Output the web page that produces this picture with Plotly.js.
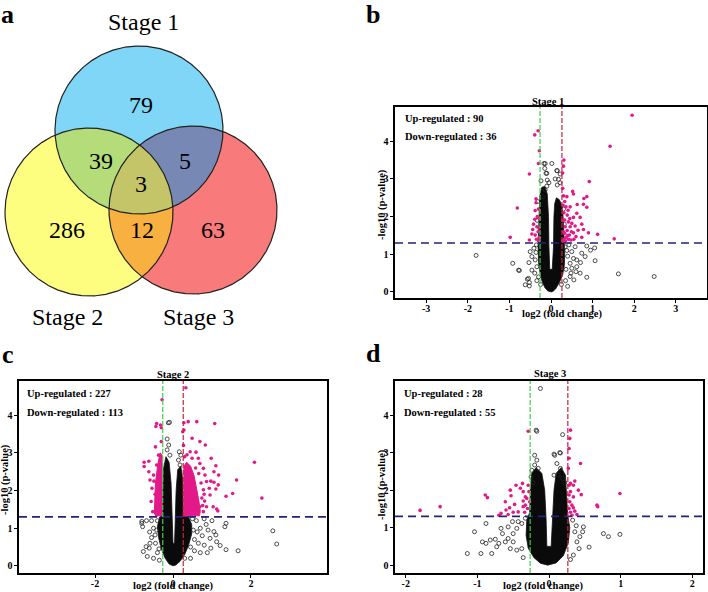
<!DOCTYPE html>
<html><head><meta charset="utf-8">
<script src="https://cdn.plot.ly/plotly-3.0.1.min.js"></script>
<style>html,body{margin:0;padding:0;background:#fff;}#chart{width:708px;height:592px;}</style>
</head><body><div id="chart"></div>
<script>
// ================= DATA =================
const vennSets = ['Stage 1', 'Stage 2', 'Stage 3'];
const vennRegions = ['1', '1&2', '1&3', '1&2&3', '2', '2&3', '3'];
const vennCounts = [79, 39, 5, 3, 286, 12, 63];

const stageTitles = ['Stage 1', 'Stage 2', 'Stage 3'];
const upCounts = [90, 227, 28];
const downCounts = [36, 113, 55];
const pThreshold = 1.3;       // -log10(0.05)
const fcThreshold = 0.263;    // log2(1.2)

const xTicksS1 = [-3, -2, -1, 0, 1, 2, 3];
const xTicksS2 = [-2, 0, 2];
const xTicksS3 = [-2, -1, 0, 1, 2];
const yTicks = [0, 1, 2, 3, 4];

// Stage 1: significant (magenta) points [log2FC, -log10 p]
const s1Sig = [[1.95,4.69],[1.42,3.87],[0.92,2.93],[-0.52,3.13],[-0.81,2.23],[-0.98,1.45],[1.52,1.41],[1.12,1.53],
[-0.39,4.17],[-0.31,4.28],[-0.28,3.75],[-0.3,3.41],[0.31,3.5],[0.3,3.34],[0.28,3.16],[0.52,2.67],[0.54,2.6],[0.38,2.53],
[0.79,2.48],[0.86,2.53],[0.63,2.32],[0.78,2.33],[0.46,2.26],[0.41,2.17],[0.62,2.09],[0.54,1.98],[0.7,1.98],[0.86,2.25],
[0.74,1.8],[0.58,1.75],[0.46,1.73],[0.65,1.64],[0.78,1.66],[0.9,1.57],[0.6,1.47],[0.74,1.45],[0.54,1.57],[0.33,2.4],
[0.36,2.26],[0.31,2.1],[0.39,2.04],[0.33,1.91],[0.42,1.86],[0.34,1.73],[0.39,1.63],[0.33,1.56],[0.44,1.51],[0.36,1.45],
[0.31,1.4],[0.42,1.4],[0.49,1.6],[0.5,1.82],[-0.36,2.37],[-0.38,2.16],[-0.33,2.0],[-0.39,1.93],[-0.42,1.8],[-0.34,1.73],
[-0.44,1.66],[-0.31,1.6],[-0.38,1.51],[-0.28,1.45],[-0.52,1.38],[-0.46,1.54],[-0.36,2.47],[0.28,1.9],[0.29,2.3],[0.3,1.6],
[0.28,1.35],[0.35,1.35],[0.4,1.5],[0.45,1.95],[0.48,1.38],[0.55,1.4],[0.3,2.55],[0.28,2.75],[-0.29,1.95],[-0.3,2.2],
[-0.29,1.7],[-0.3,1.35],[-0.35,1.4]];
// Stage 1: non-significant (open black) points
const s1NS = [[-1.8,0.97],[-0.92,0.76],[-0.76,0.57],[-0.57,0.34],[-0.62,0.19],[-0.52,0.25],[-0.53,0.78],[-0.46,0.94],
[-0.5,1.07],[-0.41,1.16],[-0.46,0.58],[-0.39,0.5],[-0.34,0.67],[1.62,0.48],[2.48,0.41],[1.06,0.83],[1.05,1.17],[0.95,1.11],
[0.86,1.22],[0.74,1.03],[0.82,0.94],[0.71,0.78],[0.62,0.67],[0.86,0.39],[0.7,0.5],[0.58,1.2],[0.5,1.07],[0.54,0.89],
[0.62,0.85],[0.46,0.76],[0.5,0.63],[0.6,0.54],[0.46,0.41],[0.55,0.32],[-0.17,3.41],[-0.15,3.28],[-0.12,3.15],[-0.09,2.97],
[-0.1,2.81],[-0.14,2.71],[-0.2,2.53],[0.15,3.22],[0.22,3.13],[0.18,2.99],[0.15,2.84],[0.02,3.41],[0.14,3.22],[0.22,2.9],
[-0.14,3.41],[-0.1,3.15],[-0.78,0.58],[-0.54,0.36],[-0.52,0.16],[0.43,1.25],[0.4,0.95],[0.48,0.5],[0.35,0.3],[-0.35,1.25],
[-0.38,0.85],[-0.3,0.4],[-0.25,0.2],[0.25,0.2],[0.4,0.15],[0.38,1.1],[-0.36,1.05],[0.1,3.0],[-0.05,2.9],
[-0.32,2.4],[-0.33,1.9],[0.32,1.8],[0.34,1.2],[0.36,0.6],[-0.34,0.3],[0.3,2.2],[-0.24,2.95]];
// Stage 1: outline of the dense overlapping cloud of non-significant points
const s1Core = [[0,0],[-0.08,0.03],[-0.15,0.12],[-0.22,0.3],[-0.27,0.55],[-0.3,0.8],[-0.31,1.2],[-0.3,1.7],[-0.29,2.2],
[-0.27,2.55],[-0.22,2.78],[-0.15,2.8],[-0.09,2.6],[-0.06,2.0],[-0.05,1.2],[-0.03,0.6],[0.03,0.6],[0.06,1.2],[0.07,2.0],
[0.09,2.35],[0.13,2.5],[0.2,2.45],[0.26,2.3],[0.29,2.0],[0.31,1.5],[0.33,1.0],[0.32,0.7],[0.28,0.45],[0.2,0.25],[0.11,0.08],[0.05,0.02]];

// Stage 2
const s2Sig = [[0.33,4.73],[-0.28,4.41],[-0.42,3.78],[-0.32,3.74],[-0.44,3.7],[-0.3,3.67],[0.39,3.83],[0.61,3.83],[1.07,3.78],
[0.28,3.61],[0.49,3.39],[0.69,3.3],[0.83,3.21],[-0.74,2.75],[-0.74,2.64],[-0.62,2.78],[-0.59,2.28],[-0.49,2.25],[-0.62,2.5],
[2.09,2.75],[2.28,1.8],[1.63,2.28],[1.53,1.92],[1.36,1.85],[0.98,2.86],[1.1,2.66],[1.05,2.5],[1.17,2.41],[0.97,2.25],
[1.05,2.22],[1.16,2.15],[0.93,2.06],[1.1,2.04],[1.03,1.57],[1.12,1.51],[1.15,1.46],[0.81,1.72],[0.86,1.57],[0.95,1.88],
[0.28,3.8],[0.25,3.56],[0.44,3.03],[0.59,3.02],[0.49,2.86],[0.65,2.86],[0.69,2.72],[0.78,2.59],[0.82,2.41],[0.86,2.24],
[0.78,2.02],[0.74,1.8],[0.69,1.57],[0.78,1.44],[0.61,1.4],[0.44,1.35],[0.31,1.35],[-0.5,2.41],[-0.54,2.06],[-0.56,1.71],
[-0.52,1.44],[-0.42,1.35],[-0.45,3.16],[-0.37,2.94],[-0.42,2.68],[0.3,2.9],[0.36,2.95],[0.27,3.2],[0.72,2.2],[0.66,2.45],
[0.76,1.6],[0.8,1.9],[0.58,2.6],[-0.3,3.3],[-0.3,2.3],[-0.34,1.5],[-0.46,1.9]];
const s2NS = [[2.56,0.93],[2.66,0.58],[1.67,0.4],[1.36,0.43],[1.21,0.54],[1.33,1.04],[1.36,1.13],[1.05,0.91],[0.95,0.73],
[1.1,0.82],[0.97,0.47],[1.12,0.64],[-0.8,1.18],[-0.78,1.04],[-0.76,0.38],[-0.69,0.51],[-0.66,0.25],[-0.61,0.47],[-0.5,0.2],
[-0.59,0.6],[-0.46,0.82],[-0.8,1.13],[-0.09,3.81],[-0.15,3.37],[-0.11,3.21],[-0.15,3.08],[-0.08,2.94],[0.16,3.03],[0.2,2.94],
[0.14,2.81],[0.18,2.68],[-0.12,3.8],[0.6,1.2],[0.7,1.0],[0.75,0.8],[0.65,0.6],[0.55,0.4],[0.8,0.55],[0.85,1.1],[0.9,0.95],
[0.62,0.9],[0.7,0.35],[-0.55,1.2],[-0.6,0.9],[-0.5,1.0],[-0.45,0.6],[-0.4,0.35],[-0.55,0.75],[-0.35,0.15],[0.45,0.2],
[0.55,0.7],[0.5,1.25],[0.8,1.25],[1.0,1.2],[0.88,0.35],[-0.68,1.2],[-0.4,1.2],[0.52,0.95],[0.45,0.5],[-0.42,0.95],
[-0.36,0.45],[0.3,0.2]];
const s2Core = [[0,0],[-0.1,0.05],[-0.2,0.2],[-0.3,0.45],[-0.37,0.75],[-0.4,1.05],[-0.34,1.3],[-0.27,1.35],[-0.26,2.0],
[-0.24,2.6],[-0.18,2.9],[-0.1,2.75],[-0.05,2.2],[-0.02,1.2],[0.0,0.6],[0.04,0.6],[0.06,1.2],[0.08,2.0],[0.12,2.55],
[0.2,2.65],[0.25,2.3],[0.26,1.35],[0.4,1.3],[0.48,1.1],[0.48,0.85],[0.4,0.55],[0.3,0.3],[0.18,0.12],[0.07,0.02]];
// outlines of the dense clusters of significant points
const s2SigCoreUp = [[0.28,1.33],[0.28,2.65],[0.35,2.75],[0.45,2.65],[0.54,2.4],[0.6,2.1],[0.66,1.75],[0.7,1.45],[0.68,1.33]];
const s2SigCoreDown = [[-0.28,1.33],[-0.28,2.95],[-0.33,3.0],[-0.39,2.7],[-0.45,2.2],[-0.48,1.7],[-0.48,1.4],[-0.44,1.33]];

// Stage 3
const s3Sig = [[-1.8,1.46],[-1.52,1.56],[-0.89,1.87],[-0.86,1.8],[-0.67,1.38],[-0.7,1.33],[-0.6,1.47],[-0.55,1.53],
[-0.61,1.69],[-0.54,2.0],[-0.53,1.85],[-0.48,1.62],[-0.46,2.13],[-0.37,2.18],[-0.4,2.05],[-0.36,1.96],[-0.33,1.82],
[-0.36,1.71],[-0.33,1.6],[-0.31,1.78],[-0.3,1.51],[-0.34,1.41],[-0.29,2.13],[-0.28,1.96],[-0.27,1.69],[-0.36,1.56],
[-0.43,1.42],[-0.5,1.41],[-0.57,1.35],[-0.29,3.57],[0.3,3.6],[0.29,3.38],[0.28,3.11],[0.28,2.85],[0.27,2.58],[0.44,2.71],
[0.36,2.24],[0.3,2.18],[0.34,2.13],[0.28,2.13],[0.41,2.0],[0.45,1.88],[0.34,1.82],[0.99,1.91],[0.67,1.6],[0.68,1.56],
[0.29,1.69],[0.32,1.6],[0.34,1.53],[0.28,1.51],[0.36,1.44],[0.3,1.41],[0.32,1.33],[0.39,1.35],[0.28,1.87],[0.3,1.96]];
const s3NS = [[-0.12,4.71],[-0.17,3.57],[-0.2,2.93],[-0.17,2.8],[-0.2,2.67],[-0.24,2.53],[-0.15,2.58],[-1.04,0.89],
[-1.14,0.31],[-0.95,0.31],[-0.8,0.31],[-0.93,0.62],[-0.88,0.58],[-0.82,0.67],[-0.75,0.69],[-0.73,0.49],[-0.67,0.98],
[-0.65,0.84],[-0.7,0.58],[-0.61,0.62],[-0.57,0.71],[-0.54,0.44],[-0.5,0.84],[-0.5,0.62],[-0.45,0.98],[-0.43,1.16],
[-0.38,1.11],[-0.33,1.25],[-0.45,0.4],[-0.38,0.44],[-0.57,1.02],[-0.51,1.16],[-0.88,1.11],[0.76,0.84],[0.83,0.76],
[0.99,0.82],[0.56,0.48],[0.47,0.89],[0.43,0.76],[0.39,0.62],[0.42,0.44],[0.34,0.27],[0.48,1.02],[0.36,0.89],[0.19,3.48],
[0.08,2.93],[0.15,3.0],[0.11,2.71],[0.16,2.58],[0.13,2.4],[0.19,2.31],[0.07,2.4],[-0.18,3.6],[0.07,2.96],[0.16,2.99],
[-0.25,2.35],[-0.22,2.2],[0.22,2.2],[0.33,1.2],[0.38,1.05],[-0.36,0.2],[0.3,0.15]];
const s3Core = [[-0.02,0],[-0.12,0.05],[-0.21,0.2],[-0.29,0.45],[-0.32,0.8],[-0.31,1.2],[-0.27,1.4],[-0.26,2.0],[-0.24,2.45],
[-0.18,2.6],[-0.1,2.45],[-0.06,2.0],[-0.04,1.2],[-0.03,0.5],[0.03,0.5],[0.05,1.2],[0.07,2.0],[0.1,2.45],[0.17,2.6],
[0.23,2.4],[0.25,1.8],[0.26,1.35],[0.29,1.0],[0.27,0.6],[0.2,0.25],[0.1,0.06]];

// ================= LAYOUT HELPERS =================
const W = 708, H = 592;
const px = x => x / W;
const py = y => 1 - y / H;
const SERIF = 'Liberation Serif, Times New Roman, serif';
const MAG = '#e3198a';

const traces = [];

// ---------- Venn (panel a) ----------
const circles = [{x:139,y:130,r:84},{x:89,y:212,r:84},{x:193,y:210,r:84}];
const baseColors = ['#7fd6f7', '#fdfd80', '#f87a7a'];
function region(idx) {
  const pts = [];
  idx.forEach(i => {
    const c = circles[i];
    for (let k = 0; k < 720; k++) {
      const a = k / 720 * 2 * Math.PI;
      const X = c.x + c.r * Math.cos(a), Y = c.y + c.r * Math.sin(a);
      let ok = true;
      idx.forEach(j => { if (j !== i) { const d = Math.hypot(X - circles[j].x, Y - circles[j].y); if (d > circles[j].r + 1e-6) ok = false; } });
      if (ok) pts.push([X, Y]);
    }
  });
  const cx = pts.reduce((s, p) => s + p[0], 0) / pts.length;
  const cy = pts.reduce((s, p) => s + p[1], 0) / pts.length;
  pts.sort((p, q) => Math.atan2(p[1] - cy, p[0] - cx) - Math.atan2(q[1] - cy, q[0] - cx));
  pts.push(pts[0]);
  return pts;
}
const vennLayers = [
  {idx:[0], color:baseColors[0]}, {idx:[1], color:baseColors[1]}, {idx:[2], color:baseColors[2]},
  {idx:[0,1], color:'#b4dc78'}, {idx:[0,2], color:'#7888b4'}, {idx:[1,2], color:'#f8b040'},
  {idx:[0,1,2], color:'#c4c468'}
];
vennLayers.forEach(L => {
  const p = region(L.idx);
  traces.push({type:'scatter', mode:'lines', x:p.map(q=>q[0]), y:p.map(q=>q[1]), fill:'toself',
    fillcolor:L.color, line:{width:0, color:L.color}, xaxis:'x4', yaxis:'y4', hoverinfo:'skip'});
});
circles.forEach((c, i) => {
  const p = region([i]);
  traces.push({type:'scatter', mode:'lines', x:p.map(q=>q[0]), y:p.map(q=>q[1]),
    line:{width:1.2, color:'#222'}, xaxis:'x4', yaxis:'y4', hoverinfo:'skip'});
});
const regionPos = {'1':[141,107], '1&2':[101,163], '1&3':[185,163], '1&2&3':[141,186],
                   '2':[67,232], '2&3':[142,232], '3':[213,232]};
traces.push({type:'scatter', mode:'text', x:vennRegions.map(r=>regionPos[r][0]), y:vennRegions.map(r=>regionPos[r][1]),
  text:vennCounts.map(String), textposition:'middle center',
  textfont:{family:SERIF, size:24, color:'#000'}, xaxis:'x4', yaxis:'y4', hoverinfo:'skip'});
const setPos = [[143,22],[67,317],[198,317]];

// ---------- Volcano plots ----------
const panels = [
  {sig:s1Sig, ns:s1NS, core:s1Core, sigCores:[], xa:'x', ya:'y'},
  {sig:s2Sig, ns:s2NS, core:s2Core, sigCores:[s2SigCoreUp, s2SigCoreDown], xa:'x2', ya:'y2'},
  {sig:s3Sig, ns:s3NS, core:s3Core, sigCores:[], xa:'x3', ya:'y3'}
];
panels.forEach(P => {
  traces.push({type:'scatter', mode:'lines', x:P.core.map(p=>p[0]).concat([P.core[0][0]]), y:P.core.map(p=>p[1]).concat([P.core[0][1]]),
    fill:'toself', fillcolor:'#0a0a0a', line:{width:0.8, color:'#111'}, xaxis:P.xa, yaxis:P.ya, hoverinfo:'skip'});
  traces.push({type:'scatter', mode:'markers', x:P.ns.map(p=>p[0]), y:P.ns.map(p=>p[1]),
    marker:{symbol:'circle-open', size:4, color:'#222', line:{width:0.8}}, xaxis:P.xa, yaxis:P.ya, hoverinfo:'skip'});
  P.sigCores.forEach(C => {
    traces.push({type:'scatter', mode:'lines', x:C.map(p=>p[0]).concat([C[0][0]]), y:C.map(p=>p[1]).concat([C[0][1]]),
      fill:'toself', fillcolor:MAG, line:{width:1, color:MAG}, xaxis:P.xa, yaxis:P.ya, hoverinfo:'skip'});
  });
  traces.push({type:'scatter', mode:'markers', x:P.sig.map(p=>p[0]), y:P.sig.map(p=>p[1]),
    marker:{symbol:'circle', size:3.6, color:MAG}, xaxis:P.xa, yaxis:P.ya, hoverinfo:'skip'});
});

function xAxis(domain, range, ticks, anchor) {
  return {domain, range, anchor, tickmode:'array', tickvals:ticks, ticktext:ticks.map(t=>String(t)),
    showgrid:false, zeroline:false, showline:true, mirror:true, linecolor:'#000', linewidth:1.6,
    ticks:'outside', ticklen:3, tickcolor:'#000', tickwidth:1, ticklabelstandoff:-3,
    tickfont:{family:SERIF, size:10, color:'#000', weight:'bold'}, fixedrange:true};
}
function yAxis(domain, range, anchor) {
  return {domain, range, anchor, tickmode:'array', tickvals:yTicks, ticktext:yTicks.map(String),
    showgrid:false, zeroline:false, showline:true, mirror:true, linecolor:'#000', linewidth:1.6,
    ticks:'outside', ticklen:3, tickcolor:'#000', tickwidth:1,
    tickfont:{family:SERIF, size:10, color:'#000', weight:'bold'}, fixedrange:true};
}

const layout = {
  width:W, height:H, autosize:false, margin:{l:0, r:0, t:0, b:0},
  paper_bgcolor:'#fff', plot_bgcolor:'#fff', showlegend:false,
  xaxis:  xAxis([px(395), px(707)], [-3.75, 3.75], xTicksS1, 'y'),
  yaxis:  yAxis([py(298), py(107)], [-0.16, 4.91], 'x'),
  xaxis2: xAxis([px(19), px(327)], [-3.95, 3.95], xTicksS2, 'y2'),
  yaxis2: yAxis([py(573), py(381)], [-0.19, 4.91], 'x2'),
  xaxis3: xAxis([px(395), px(703)], [-2.15, 2.15], xTicksS3, 'y3'),
  yaxis3: yAxis([py(573), py(381)], [-0.21, 4.91], 'x3'),
  xaxis4: {domain:[0, px(330)], range:[0, 330], anchor:'y4', visible:false, fixedrange:true},
  yaxis4: {domain:[py(330), 1], range:[330, 0], anchor:'x4', visible:false, fixedrange:true},
  shapes: [], annotations: []
};

// threshold lines
[['x','y'],['x2','y2'],['x3','y3']].forEach(([xa, ya]) => {
  layout.shapes.push({type:'line', xref:xa+' domain', x0:0, x1:1, yref:ya, y0:pThreshold, y1:pThreshold,
    line:{color:'#23237a', width:1.7, dash:'8px,5px'}});
  layout.shapes.push({type:'line', xref:xa, x0:-fcThreshold, x1:-fcThreshold, yref:ya+' domain', y0:0, y1:1,
    line:{color:'#3fcf4a', width:1.2, dash:'5px,2px'}});
  layout.shapes.push({type:'line', xref:xa, x0:fcThreshold, x1:fcThreshold, yref:ya+' domain', y0:0, y1:1,
    line:{color:'#cc2040', width:1.2, dash:'5px,2px'}});
});

function ann(text, x, y, opts) {
  layout.annotations.push(Object.assign({text, x:px(x), y:py(y), xref:'paper', yref:'paper',
    showarrow:false, xanchor:'center', yanchor:'middle', font:{family:SERIF, size:10, color:'#000', weight:'bold'}}, opts||{}));
}
// Venn set labels
vennSets.forEach((s, i) => {
  layout.annotations.push({text:s, x:setPos[i][0], y:setPos[i][1], xref:'x4', yref:'y4', showarrow:false,
    xanchor:'center', yanchor:'middle', font:{family:SERIF, size:24, color:'#000'}});
});
// panel letters
ann('a', 7, 14, {font:{family:SERIF, size:26, color:'#000', weight:'bold'}});
ann('b', 373, 15, {font:{family:SERIF, size:26, color:'#000', weight:'bold'}});
ann('c', 8, 354, {font:{family:SERIF, size:26, color:'#000', weight:'bold'}});
ann('d', 373, 353, {font:{family:SERIF, size:26, color:'#000', weight:'bold'}});
// volcano titles and counts
const titlePos = [[548,102],[173,374],[550,373]];
const countPos = [[403,119,137],[25,393,412],[402,393,412]];
stageTitles.forEach((t, i) => {
  ann(t, titlePos[i][0], titlePos[i][1], {font:{family:SERIF, size:10.5, color:'#000', weight:'bold'}});
  ann('Up-regulated : ' + upCounts[i], countPos[i][0], countPos[i][1], {xanchor:'left', font:{family:SERIF, size:10.5, color:'#000', weight:'bold'}});
  ann('Down-regulated : ' + downCounts[i], countPos[i][0], countPos[i][2], {xanchor:'left', font:{family:SERIF, size:10.5, color:'#000', weight:'bold'}});
});
// axis titles
const yTitlePos = [[382,205],[5,480],[382,485]];
const xTitlePos = [[562,314],[173,586],[543,586]];
for (let i = 0; i < 3; i++) {
  ann('-log10 (p-value)', yTitlePos[i][0], yTitlePos[i][1], {textangle:-90, font:{family:SERIF, size:10.5, color:'#000', weight:'bold'}});
  ann('log2 (fold change)', xTitlePos[i][0], xTitlePos[i][1], {font:{family:SERIF, size:10.5, color:'#000', weight:'bold'}});
}

Plotly.newPlot('chart', traces, layout, {staticPlot:true, displayModeBar:false});
</script></body></html>
